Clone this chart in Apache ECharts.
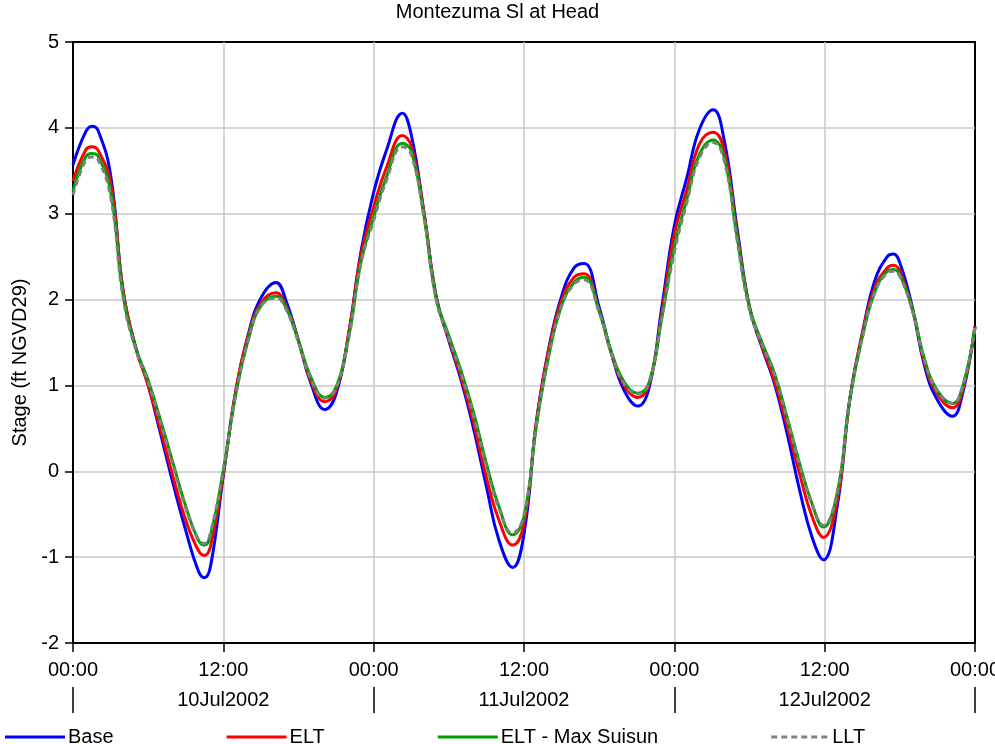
<!DOCTYPE html>
<html>
<head>
<meta charset="utf-8">
<script src="https://cdn.jsdelivr.net/npm/echarts@6/dist/echarts.min.js"></script>
<style>html,body{margin:0;padding:0;background:#fff}#chart{width:995px;height:744px}</style>
</head>
<body>
<div id="chart"></div>
<script>
// Hours since 00:00 10Jul2002 (hourly readings plus the times of the highs and lows)
var hours = [0,1,1.5,2,3,4,5,6,7,8,9,10,10.5,11,12,13,14,15,16.2,17,18,19,20.1,21,22,23,24,
  25,26.3,27,28,29,30,31,32,33,34,35.1,36,37,38,39,40,40.8,42,43,44,45.1,46,47,48,
  49,50,51.1,52,53,54,55,56,57,58,59,59.9,61,62,63,64,65,65.5,66,67,68,69,70.2,71,72];

var base = [3.57,3.95,4.02,3.97,3.45,2.10,1.45,1.00,0.43,-0.15,-0.69,-1.16,-1.24,-1.09,-0.05,0.94,1.60,2.02,2.20,1.99,1.52,1.02,0.72,0.90,1.60,2.57,3.25,
  3.73,4.17,3.92,3.03,2.03,1.52,1.05,0.48,-0.18,-0.80,-1.12,-0.73,0.59,1.45,2.04,2.37,2.42,1.91,1.36,0.94,0.76,0.98,1.91,2.86,
  3.42,3.98,4.21,3.84,2.84,1.91,1.44,1.02,0.44,-0.22,-0.77,-1.03,-0.41,0.83,1.60,2.22,2.50,2.53,2.43,1.91,1.21,0.83,0.64,0.90,1.69];

var elt = [3.38,3.74,3.78,3.74,3.36,2.10,1.44,1.00,0.48,-0.07,-0.57,-0.92,-0.98,-0.86,-0.03,0.94,1.58,1.96,2.08,1.93,1.52,1.05,0.81,0.94,1.60,2.53,3.08,
  3.53,3.91,3.79,3.03,2.02,1.54,1.09,0.55,-0.07,-0.57,-0.86,-0.61,0.59,1.43,1.99,2.26,2.30,1.87,1.36,1.00,0.86,1.02,1.84,2.76,
  3.28,3.81,3.95,3.73,2.78,1.91,1.46,1.05,0.53,-0.03,-0.53,-0.77,-0.34,0.83,1.60,2.14,2.37,2.40,2.33,1.89,1.25,0.90,0.74,0.94,1.69];

var eltMaxSuisun = [3.27,3.66,3.70,3.67,3.26,2.06,1.44,1.06,0.59,0.09,-0.41,-0.80,-0.86,-0.73,0.01,0.90,1.54,1.93,2.04,1.91,1.52,1.09,0.86,0.98,1.56,2.45,2.96,
  3.42,3.82,3.73,2.99,2.01,1.58,1.16,0.67,0.09,-0.41,-0.74,-0.53,0.54,1.36,1.93,2.20,2.26,1.87,1.38,1.04,0.91,1.04,1.79,2.61,
  3.17,3.69,3.86,3.65,2.74,1.91,1.50,1.14,0.63,0.09,-0.38,-0.65,-0.26,0.83,1.56,2.09,2.33,2.35,2.29,1.89,1.29,0.94,0.79,0.98,1.67];

var llt = [3.22,3.62,3.66,3.63,3.20,2.02,1.42,1.04,0.56,0.06,-0.43,-0.79,-0.84,-0.70,0.02,0.89,1.53,1.92,2.02,1.89,1.50,1.07,0.85,0.97,1.55,2.43,2.92,
  3.38,3.78,3.69,2.97,1.99,1.55,1.13,0.63,0.05,-0.43,-0.72,-0.51,0.55,1.36,1.92,2.18,2.23,1.85,1.36,1.02,0.90,1.04,1.78,2.55,
  3.13,3.65,3.83,3.61,2.70,1.88,1.48,1.12,0.61,0.07,-0.39,-0.63,-0.24,0.83,1.55,2.08,2.31,2.33,2.27,1.87,1.28,0.93,0.79,0.98,1.68];

var timeLabels = ['00:00','12:00','00:00','12:00','00:00','12:00','00:00'];
var dateLabels = ['10Jul2002','11Jul2002','12Jul2002'];
var dateLabelHours = [12,36,60];
var dayBoundaryHours = [0,24,48,72];
var seriesNames = ['Base','ELT','ELT - Max Suisun','LLT'];
var seriesColors = ['#0000ff','#ff0000','#00a000','#808080'];

function pairs(vals){ return hours.map(function(h,i){ return [h, vals[i]]; }); }

var FONT = '"Liberation Sans", Arial, sans-serif';
var solidIcon = 'path://M0,0H60V3H0Z';
var dashIcon = 'path://M0,0H6V3H0Z M10,0H16V3H10Z M20,0H26V3H20Z M30,0H36V3H30Z M40,0H46V3H40Z M50,0H56V3H50Z';

var chart = echarts.init(document.getElementById('chart'), null, {renderer:'canvas'});
var grayGrid = {show:true, showMinLine:false, showMaxLine:false, lineStyle:{color:'#c8c8c8', width:1.5}};

function lineSeries(i, vals, extra){
  var ls = {color:seriesColors[i], width:3};
  if (extra) ls.type = extra;
  return {name:seriesNames[i], type:'line', data:pairs(vals), smooth:0.45, symbol:'none', showSymbol:false,
    lineStyle:ls, itemStyle:{color:seriesColors[i]}};
}

chart.setOption({
  animation:false,
  backgroundColor:'#fff',
  textStyle:{fontFamily:FONT},
  title:{text:'Montezuma Sl at Head', left:'center', top:0, padding:[2,5,5,5],
    textStyle:{fontSize:20, fontWeight:'normal', color:'#000', fontFamily:FONT}},
  grid:{left:73, right:20, top:42, bottom:101, show:true, borderColor:'#000', borderWidth:2,
    containLabel:false, outerBoundsMode:'none'},
  legend:{left:5, top:727, padding:0, itemWidth:60, itemHeight:3, itemGap:113,
    textStyle:{fontSize:20, color:'#000', fontFamily:FONT, padding:[0,0,0,-2]},
    data:[
      {name:seriesNames[0], icon:solidIcon},
      {name:seriesNames[1], icon:solidIcon},
      {name:seriesNames[2], icon:solidIcon},
      {name:seriesNames[3], icon:dashIcon}
    ]},
  xAxis:[{
    type:'value', min:0, max:72, interval:12,
    axisLine:{show:true, onZero:false, lineStyle:{color:'#000', width:2}},
    axisTick:{show:true, length:9, lineStyle:{color:'#000', width:1.5}},
    axisLabel:{fontSize:20, color:'#000', margin:17, fontFamily:FONT,
      formatter:function(v){ return timeLabels[Math.round(v/12)]; }},
    splitLine:grayGrid
  },{
    type:'value', min:0, max:72, position:'bottom', offset:44,
    axisLine:{show:false, onZero:false},
    axisTick:{show:true, length:26, customValues:dayBoundaryHours, lineStyle:{color:'#000', width:1.5}},
    axisLabel:{fontSize:20, color:'#000', margin:3, fontFamily:FONT, customValues:dateLabelHours,
      formatter:function(v){ return dateLabels[dateLabelHours.indexOf(v)]; }},
    splitLine:{show:false}
  }],
  yAxis:{
    type:'value', min:-2, max:5, interval:1,
    name:'Stage (ft NGVD29)', nameLocation:'middle', nameGap:35,
    nameTextStyle:{fontSize:20, color:'#000', fontFamily:FONT, padding:[0,40,0,0]},
    axisLine:{show:true, onZero:false, lineStyle:{color:'#000', width:2}},
    axisTick:{show:true, length:8, lineStyle:{color:'#000', width:1.5}},
    axisLabel:{fontSize:20, color:'#000', margin:14, fontFamily:FONT},
    splitLine:grayGrid
  },
  series:[
    lineSeries(0, base),
    lineSeries(1, elt),
    lineSeries(2, eltMaxSuisun),
    lineSeries(3, llt, [6,4])
  ]
});
</script>
</body>
</html>
